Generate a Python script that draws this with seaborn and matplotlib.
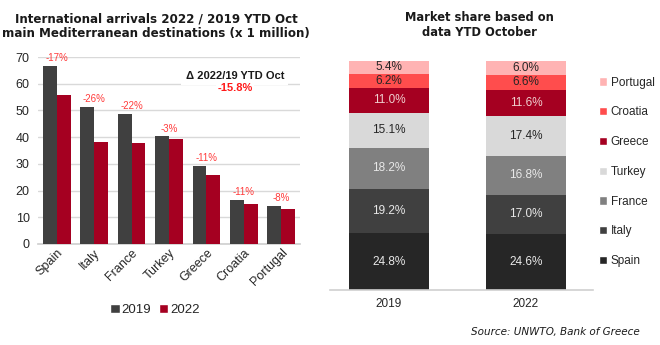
import matplotlib
matplotlib.use("Agg")
import matplotlib.pyplot as plt
from matplotlib.patches import Patch
import seaborn as sns
import pandas as pd
import numpy as np

# Arrivals YTD October, millions
countries = ["Spain", "Italy", "France", "Turkey", "Greece", "Croatia", "Portugal"]
arrivals_2019 = [66.8, 51.4, 48.7, 40.3, 29.3, 16.6, 14.2]
arrivals_2022 = [55.8, 38.1, 37.7, 39.2, 26.0, 14.8, 13.1]
change_labels = ["-17%", "-26%", "-22%", "-3%", "-11%", "-11%", "-8%"]
total_change_label = "-15.8%"

# Market shares (%) by year
years = ["2019", "2022"]
share_2019 = [24.8, 19.2, 18.2, 15.1, 11.0, 6.2, 5.4]
share_2022 = [24.6, 17.0, 16.8, 17.4, 11.6, 6.6, 6.0]

year_colors = {"2019": "#404040", "2022": "#a50021"}
country_colors = ["#262626", "#404040", "#808080", "#d9d9d9", "#a50021", "#ff4d4d", "#ffb3b3"]
label_colors = ["#e8e8e8", "#e8e8e8", "#e8e8e8", "#262626", "#f0d0d0", "#262626", "#262626"]

sns.set_theme(style="white")
plt.rcParams["font.family"] = ["Liberation Sans", "DejaVu Sans"]

W, H = 660, 345
fig = plt.figure(figsize=(W / 100, H / 100), dpi=100)


def box(x0, y0, x1, y1):
    return [x0 / W, 1 - y1 / H, (x1 - x0) / W, (y1 - y0) / H]


# ---------- left: arrivals bars ----------
ax1 = fig.add_axes(box(38, 57, 300, 244))
df = pd.DataFrame({
    "country": countries * 2,
    "year": ["2019"] * len(countries) + ["2022"] * len(countries),
    "arrivals": arrivals_2019 + arrivals_2022,
})
sns.barplot(data=df, x="country", y="arrivals", hue="year", palette=year_colors,
            width=0.74, ax=ax1, legend=False, zorder=3, saturation=1, linewidth=0)
ax1.set_ylim(0, 70)
ax1.set_xlim(-0.5, 6.5)
ax1.set_yticks(range(0, 71, 10))
ax1.yaxis.grid(True, color="#d9d9d9", linewidth=1, zorder=0)
ax1.set_axisbelow(True)
for s in ["top", "right", "left"]:
    ax1.spines[s].set_visible(False)
ax1.spines["bottom"].set_color("#d0d0d0")
ax1.set_xlabel("")
ax1.set_ylabel("")
ax1.tick_params(axis="y", labelsize=9, colors="#262626", length=0, pad=6)
ax1.tick_params(axis="x", labelsize=9, colors="#262626", length=0, pad=2)
plt.setp(ax1.get_xticklabels(), rotation=45, ha="right", rotation_mode="anchor")

for i, lab in enumerate(change_labels):
    top = max(arrivals_2019[i], arrivals_2022[i])
    ax1.text(i, top + 1.0, lab, ha="center", va="bottom", fontsize=7,
             color="#ff3b3b")

ax1.text(4.76, 63.0, "\u0394 2022/19 YTD Oct", ha="center", va="center",
         fontsize=8, fontweight="bold", color="#1a1a1a",
         bbox=dict(facecolor="white", edgecolor="none", pad=3), zorder=5)
ax1.text(4.76, 58.4, total_change_label, ha="center", va="center",
         fontsize=8, fontweight="bold", color="#ff1a1a",
         bbox=dict(facecolor="white", edgecolor="none", pad=1), zorder=5)

leg1 = [Patch(facecolor=year_colors[y], label=y) for y in years]
fig.legend(handles=leg1, loc="center", bbox_to_anchor=(155 / W, 1 - 310 / H),
           ncol=2, frameon=False, fontsize=9.5, handlelength=0.7, handleheight=0.7,
           handletextpad=0.15, columnspacing=0.6)

fig.text(156 / W, 1 - 26 / H,
         "International arrivals 2022 / 2019 YTD Oct\nmain Mediterranean destinations (x 1 million)",
         ha="center", va="center", fontsize=8.6, fontweight="bold",
         family="DejaVu Sans", color="#1a1a1a", linespacing=1.2)

# ---------- right: market share stacked bars ----------
ax2 = fig.add_axes(box(330, 61, 593, 290))
shares = np.array([share_2019, share_2022])  # years x countries
cum = np.cumsum(shares, axis=1)
# draw cumulative totals from the top segment down so each one overlays the last
for j in range(len(countries) - 1, -1, -1):
    seg = pd.DataFrame({"year": years, "cum": cum[:, j]})
    sns.barplot(data=seg, x="year", y="cum", color=country_colors[j],
                width=0.58, ax=ax2, saturation=1, linewidth=0)
for i in range(len(years)):
    for j in range(len(countries)):
        mid = cum[i, j] - shares[i, j] / 2
        ax2.text(i, mid, f"{shares[i, j]:.1f}%", ha="center", va="center",
                 fontsize=8.5, color=label_colors[j])
ax2.set_ylim(0, 100)
ax2.set_xlim(-0.43, 1.49)
ax2.set_yticks([])
ax2.set_xlabel("")
ax2.set_ylabel("")
for s in ["top", "right", "left"]:
    ax2.spines[s].set_visible(False)
ax2.spines["bottom"].set_color("#d0d0d0")
ax2.spines["bottom"].set_linewidth(1.2)
ax2.tick_params(axis="x", labelsize=8.5, colors="#262626", length=0, pad=6)

leg2 = [Patch(facecolor=country_colors[j], label=countries[j])
        for j in range(len(countries) - 1, -1, -1)]
fig.legend(handles=leg2, loc="upper left", bbox_to_anchor=(594 / W, 1 - 72 / H),
           frameon=False, fontsize=8.5, handlelength=0.7, handleheight=0.7,
           handletextpad=0.3, labelspacing=1.5, borderaxespad=0)

fig.text(479 / W, 1 - 25 / H, "Market share based on\ndata YTD October",
         ha="center", va="center", fontsize=8.3, fontweight="bold",
         family="DejaVu Sans", color="#1a1a1a", linespacing=1.25)

fig.text(640 / W, 1 - 332 / H, "Source: UNWTO, Bank of Greece",
         ha="right", va="center", fontsize=7.5, style="italic",
         family="DejaVu Sans", color="#1a1a1a")

fig.savefig("out.png", dpi=100)
